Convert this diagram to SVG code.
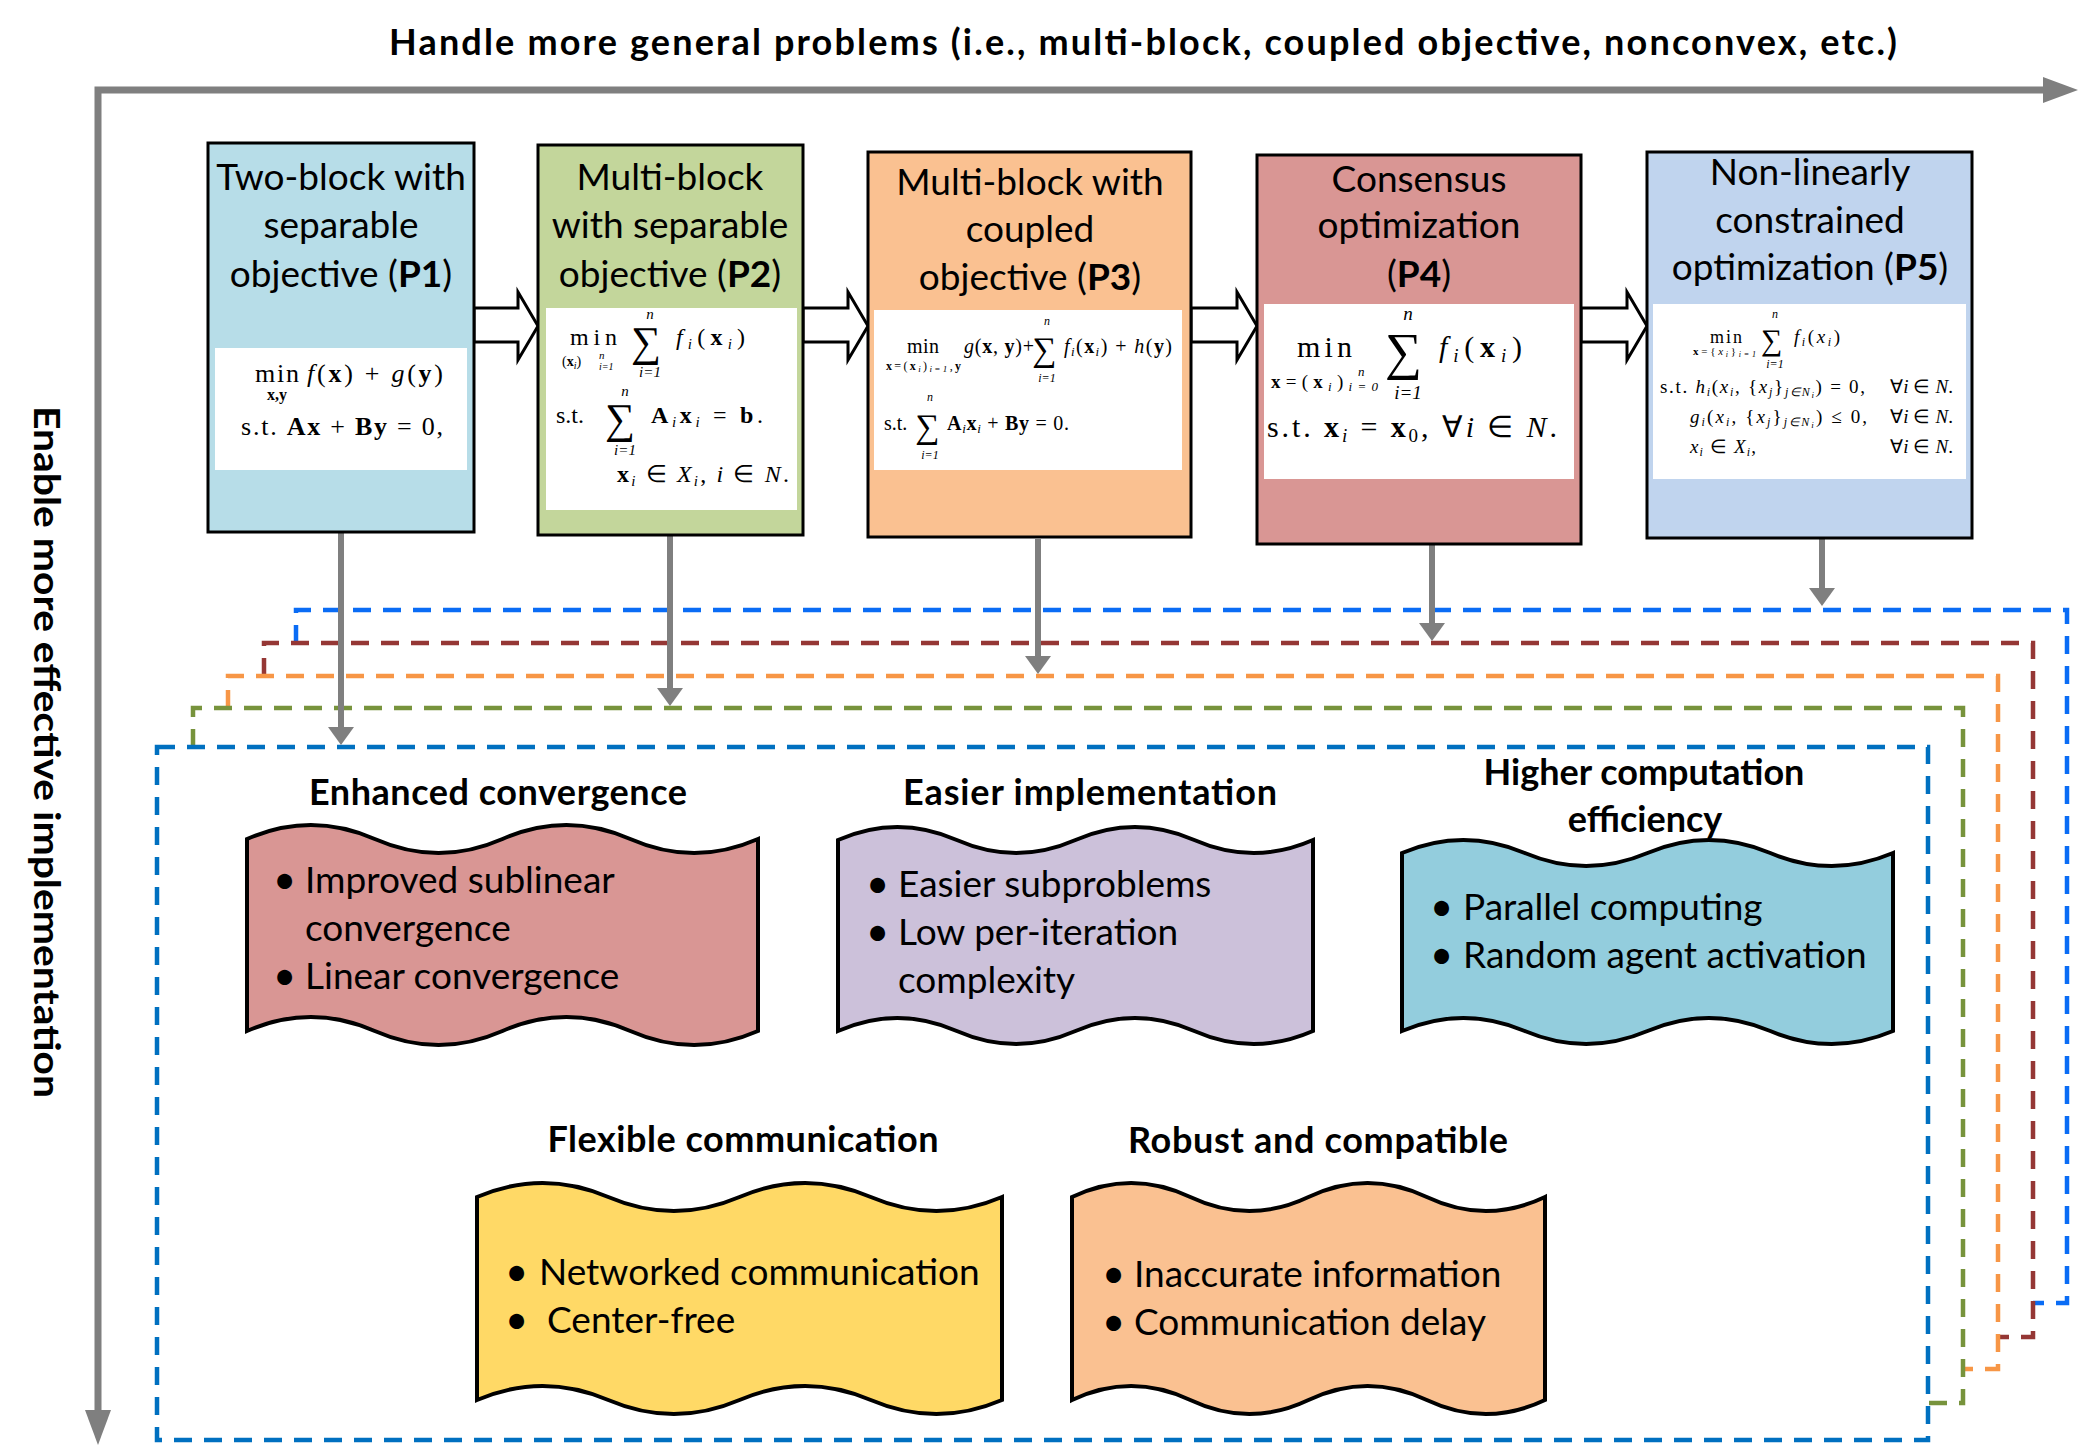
<svg xmlns="http://www.w3.org/2000/svg" width="2081" height="1446" viewBox="0 0 2081 1446">
<style>
.t{font-family:Lato,"Liberation Sans",sans-serif;font-size:37px;fill:#000}
.bl{font-size:40px}
.h{font-family:Lato,"Liberation Sans",sans-serif;font-weight:bold;font-size:36px;fill:#000}
.m{font-family:"Liberation Serif","Times New Roman",serif;fill:#000}
.it{font-style:italic}
.bd{font-weight:bold}
.box{stroke:#000;stroke-width:3}
.wh{fill:#fff}
.wave{stroke:#000;stroke-width:4}
.dash{fill:none;stroke-width:4.5;stroke-dasharray:18 12}
.gray{stroke:#7f7f7f;stroke-width:6;fill:none}
.axis{stroke:#7f7f7f;stroke-width:7;fill:none}
.blk{fill:#fff;stroke:#000;stroke-width:3;stroke-linejoin:miter}
</style>
<defs>
<marker id="axh" markerUnits="userSpaceOnUse" viewBox="0 0 35 26" markerWidth="35" markerHeight="26" refX="0" refY="13" orient="auto-start-reverse"><path d="M0,0 L35,13 L0,26 Z" fill="#7f7f7f"/></marker>
<marker id="dah" markerUnits="userSpaceOnUse" viewBox="0 0 18 26" markerWidth="18" markerHeight="26" refX="0" refY="13" orient="auto"><path d="M0,0 L18,13 L0,26 Z" fill="#7f7f7f"/></marker>
</defs>
<rect width="2081" height="1446" fill="#fff"/>

<g id="axes">
<path class="axis" d="M2043,90 H98 V1410" marker-start="url(#axh)" marker-end="url(#axh)"/>
<text class="h" x="389" y="55" font-size="36" textLength="1508">Handle more general problems (i.e., multi-block, coupled objective, nonconvex, etc.)</text>
<text class="h" transform="translate(34,406) rotate(90)" font-size="44" textLength="692" lengthAdjust="spacingAndGlyphs">Enable more effective implementation</text>
</g>

<g id="stack">
<path class="dash" stroke="#0a6cf5" d="M296,643 V610 H2067 V1303 H2033"/>
<path class="dash" stroke="#953735" d="M264,676 V643 H2033 V1337 H1998"/>
<path class="dash" stroke="#f79646" d="M228,708 V676 H1998 V1369 H1963"/>
<path class="dash" stroke="#77933c" d="M193,747 V708 H1963 V1403 H1928"/>
<rect class="dash" stroke="#0070c0" x="157" y="747" width="1771" height="693"/>
</g>

<g id="connectors">
<polygon class="blk" points="474,308 518,308 518,292 538,326 518,360 518,342 474,342"/>
<polygon class="blk" points="803,308 848,308 848,292 868,326 848,360 848,342 803,342"/>
<polygon class="blk" points="1191,308 1237,308 1237,292 1257,326 1237,360 1237,342 1191,342"/>
<polygon class="blk" points="1581,308 1627,308 1627,292 1647,326 1627,360 1627,342 1581,342"/>
<line class="gray" x1="341" y1="532" x2="341" y2="727" marker-end="url(#dah)"/>
<line class="gray" x1="670" y1="536" x2="670" y2="688" marker-end="url(#dah)"/>
<line class="gray" x1="1038" y1="539" x2="1038" y2="656" marker-end="url(#dah)"/>
<line class="gray" x1="1432" y1="545" x2="1432" y2="623" marker-end="url(#dah)"/>
<line class="gray" x1="1822" y1="539" x2="1822" y2="588" marker-end="url(#dah)"/>
</g>

<g id="p1">
<rect class="box" x="208" y="143" width="266" height="389" fill="#b7dde8"/>
<rect class="wh" x="215" y="348" width="252" height="122"/>
<text class="t" text-anchor="middle"><tspan x="341" y="190">Two-block with</tspan><tspan x="341" y="238">separable</tspan><tspan x="341" y="287">objective (<tspan class="bd">P1</tspan>)</tspan></text>
<text class="m" x="255" y="382" font-size="26" textLength="44">min</text>
<text class="m bd" x="277" y="400" font-size="16" text-anchor="middle">x,y</text>
<text class="m" x="307" y="382" font-size="26" textLength="136"><tspan class="it">f</tspan>(<tspan class="bd">x</tspan>) + <tspan class="it">g</tspan>(<tspan class="bd">y</tspan>)</text>
<text class="m" x="241" y="435" font-size="26" textLength="202">s.t. <tspan class="bd">Ax</tspan> + <tspan class="bd">By</tspan> = 0,</text>
</g>

<g id="p2">
<rect class="box" x="538" y="145" width="265" height="390" fill="#c3d69b"/>
<rect class="wh" x="546" y="308" width="251" height="202"/>
<text class="t" text-anchor="middle"><tspan x="670" y="190">Multi-block</tspan><tspan x="670" y="238">with separable</tspan><tspan x="670" y="287">objective (<tspan class="bd">P2</tspan>)</tspan></text>
<text class="m" x="570" y="345" font-size="24" textLength="47">min</text>
<text class="m" x="562" y="366" font-size="14">(<tspan class="bd">x</tspan><tspan class="it" font-size="10" dy="3">i</tspan><tspan dy="-3">)</tspan></text>
<text class="m it" x="599" y="359" font-size="11">n</text>
<text class="m it" x="599" y="370" font-size="10">i=1</text>
<text class="m" x="631" y="356" font-size="42">∑</text>
<text class="m it" x="650" y="319" font-size="15" text-anchor="middle">n</text>
<text class="m it" x="650" y="377" font-size="15" text-anchor="middle">i=1</text>
<text class="m" x="676" y="345" font-size="24" textLength="69"><tspan class="it">f</tspan><tspan class="it" font-size="15" dy="4">i</tspan><tspan dy="-4">(</tspan><tspan class="bd">x</tspan><tspan class="it" font-size="15" dy="4">i</tspan><tspan dy="-4">)</tspan></text>
<text class="m" x="556" y="423" font-size="24">s.t.</text>
<text class="m" x="605" y="433" font-size="42">∑</text>
<text class="m it" x="625" y="396" font-size="15" text-anchor="middle">n</text>
<text class="m it" x="625" y="455" font-size="15" text-anchor="middle">i=1</text>
<text class="m" x="651" y="423" font-size="24" textLength="112"><tspan class="bd">A</tspan><tspan class="it" font-size="15" dy="4">i</tspan><tspan class="bd" dy="-4">x</tspan><tspan class="it" font-size="15" dy="4">i</tspan><tspan dy="-4"> = </tspan><tspan class="bd">b</tspan>.</text>
<text class="m" x="617" y="482" font-size="24" textLength="172"><tspan class="bd">x</tspan><tspan class="it" font-size="15" dy="4">i</tspan><tspan dy="-4"> ∈ </tspan><tspan class="it">X</tspan><tspan class="it" font-size="15" dy="4">i</tspan><tspan dy="-4">, </tspan><tspan class="it">i</tspan> ∈ <tspan class="it">N</tspan>.</text>
</g>

<g id="p3">
<rect class="box" x="868" y="152" width="323" height="385" fill="#fac191"/>
<rect class="wh" x="874" y="310" width="308" height="160"/>
<text class="t" text-anchor="middle"><tspan x="1030" y="195">Multi-block with</tspan><tspan x="1030" y="242">coupled</tspan><tspan x="1030" y="290">objective (<tspan class="bd">P3</tspan>)</tspan></text>
<text class="m" x="907" y="353" font-size="20" textLength="32">min</text>
<text class="m" x="886" y="370" font-size="12" textLength="75"><tspan class="bd">x</tspan>=(<tspan class="bd">x</tspan><tspan class="it" font-size="9" dy="2">i</tspan><tspan dy="-2">)</tspan><tspan class="it" font-size="9" dy="2">i=1</tspan><tspan dy="-2">,</tspan><tspan class="bd">y</tspan></text>
<text class="m" x="964" y="353" font-size="20" textLength="70"><tspan class="it">g</tspan>(<tspan class="bd">x</tspan>, <tspan class="bd">y</tspan>)+</text>
<text class="m" x="1032" y="361" font-size="34">∑</text>
<text class="m it" x="1047" y="325" font-size="12" text-anchor="middle">n</text>
<text class="m it" x="1047" y="382" font-size="12" text-anchor="middle">i=1</text>
<text class="m" x="1064" y="353" font-size="20" textLength="108"><tspan class="it">f</tspan><tspan class="it" font-size="13" dy="3">i</tspan><tspan dy="-3">(</tspan><tspan class="bd">x</tspan><tspan class="it" font-size="13" dy="3">i</tspan><tspan dy="-3">) + </tspan><tspan class="it">h</tspan>(<tspan class="bd">y</tspan>)</text>
<text class="m" x="884" y="430" font-size="20">s.t.</text>
<text class="m" x="915" y="438" font-size="34">∑</text>
<text class="m it" x="930" y="401" font-size="12" text-anchor="middle">n</text>
<text class="m it" x="930" y="459" font-size="12" text-anchor="middle">i=1</text>
<text class="m" x="947" y="430" font-size="20" textLength="122"><tspan class="bd">A</tspan><tspan class="it" font-size="13" dy="3">i</tspan><tspan class="bd" dy="-3">x</tspan><tspan class="it" font-size="13" dy="3">i</tspan><tspan dy="-3"> + </tspan><tspan class="bd">By</tspan> = 0.</text>
</g>

<g id="p4">
<rect class="box" x="1257" y="155" width="324" height="389" fill="#d99694"/>
<rect class="wh" x="1264" y="304" width="310" height="175"/>
<text class="t" text-anchor="middle"><tspan x="1419" y="192">Consensus</tspan><tspan x="1419" y="238">optimization</tspan><tspan x="1419" y="287">(<tspan class="bd">P4</tspan>)</tspan></text>
<text class="m" x="1297" y="357" font-size="30" textLength="55">min</text>
<text class="m" x="1271" y="388" font-size="19" textLength="107"><tspan class="bd">x</tspan>=(<tspan class="bd">x</tspan><tspan class="it" font-size="13" dy="3">i</tspan><tspan dy="-3">)</tspan><tspan class="it" font-size="13" dy="3">i=0</tspan></text>
<text class="m it" x="1358" y="376" font-size="13">n</text>
<text class="m" x="1385" y="369" font-size="52">∑</text>
<text class="m it" x="1408" y="320" font-size="19" text-anchor="middle">n</text>
<text class="m it" x="1408" y="399" font-size="19" text-anchor="middle">i=1</text>
<text class="m" x="1439" y="357" font-size="30" textLength="83"><tspan class="it">f</tspan><tspan class="it" font-size="19" dy="5">i</tspan><tspan dy="-5">(</tspan><tspan class="bd">x</tspan><tspan class="it" font-size="19" dy="5">i</tspan><tspan dy="-5">)</tspan></text>
<text class="m" x="1267" y="437" font-size="30" textLength="290">s.t. <tspan class="bd">x</tspan><tspan class="it" font-size="19" dy="5">i</tspan><tspan dy="-5"> = </tspan><tspan class="bd">x</tspan><tspan font-size="19" dy="5">0</tspan><tspan dy="-5">,  ∀</tspan><tspan class="it">i</tspan> ∈ <tspan class="it">N</tspan>.</text>
</g>

<g id="p5">
<rect class="box" x="1647" y="152" width="325" height="386" fill="#c0d4ee"/>
<rect class="wh" x="1653" y="304" width="313" height="175"/>
<text class="t" text-anchor="middle"><tspan x="1810" y="185">Non-linearly</tspan><tspan x="1810" y="233">constrained</tspan><tspan x="1810" y="280">optimization (<tspan class="bd">P5</tspan>)</tspan></text>
<text class="m" x="1710" y="343" font-size="18" textLength="32">min</text>
<text class="m" x="1693" y="355" font-size="11" textLength="63"><tspan class="bd">x</tspan>={<tspan class="it">x</tspan><tspan class="it" font-size="8" dy="2">i</tspan><tspan dy="-2">}</tspan><tspan class="it" font-size="8" dy="2">i=1</tspan></text>
<text class="m" x="1761" y="350" font-size="30">∑</text>
<text class="m it" x="1775" y="318" font-size="12" text-anchor="middle">n</text>
<text class="m it" x="1775" y="368" font-size="12" text-anchor="middle">i=1</text>
<text class="m" x="1794" y="343" font-size="19" textLength="46"><tspan class="it">f</tspan><tspan class="it" font-size="12" dy="3">i</tspan><tspan dy="-3">(</tspan><tspan class="it">x</tspan><tspan class="it" font-size="12" dy="3">i</tspan><tspan dy="-3">)</tspan></text>
<text class="m" x="1660" y="393" font-size="19" textLength="205">s.t. <tspan class="it">h</tspan><tspan class="it" font-size="12" dy="3">i</tspan><tspan dy="-3">(</tspan><tspan class="it">x</tspan><tspan class="it" font-size="12" dy="3">i</tspan><tspan dy="-3">, {</tspan><tspan class="it">x</tspan><tspan class="it" font-size="12" dy="3">j</tspan><tspan dy="-3">}</tspan><tspan class="it" font-size="12" dy="3">j∈N</tspan><tspan class="it" font-size="9" dy="2">i</tspan><tspan dy="-5">) = 0,</tspan></text>
<text class="m" x="1690" y="423" font-size="19" textLength="177"><tspan class="it">g</tspan><tspan class="it" font-size="12" dy="3">i</tspan><tspan dy="-3">(</tspan><tspan class="it">x</tspan><tspan class="it" font-size="12" dy="3">i</tspan><tspan dy="-3">, {</tspan><tspan class="it">x</tspan><tspan class="it" font-size="12" dy="3">j</tspan><tspan dy="-3">}</tspan><tspan class="it" font-size="12" dy="3">j∈N</tspan><tspan class="it" font-size="9" dy="2">i</tspan><tspan dy="-5">) ≤ 0,</tspan></text>
<text class="m" x="1690" y="453" font-size="19" textLength="66"><tspan class="it">x</tspan><tspan class="it" font-size="12" dy="3">i</tspan><tspan dy="-3"> ∈ </tspan><tspan class="it">X</tspan><tspan class="it" font-size="12" dy="3">i</tspan><tspan dy="-3">,</tspan></text>
<text class="m" x="1890" y="393" font-size="19" textLength="63">∀<tspan class="it">i</tspan> ∈ <tspan class="it">N</tspan>.</text>
<text class="m" x="1890" y="423" font-size="19" textLength="63">∀<tspan class="it">i</tspan> ∈ <tspan class="it">N</tspan>.</text>
<text class="m" x="1890" y="453" font-size="19" textLength="63">∀<tspan class="it">i</tspan> ∈ <tspan class="it">N</tspan>.</text>
</g>

<g id="convergence">
<text class="h" x="498" y="805" text-anchor="middle" textLength="378">Enhanced convergence</text>
<path class="wave" fill="#d99694" d="M247,839 C289.6,820.3 332.2,820.3 374.75,839 C417.3,857.7 459.9,857.7 502.5,839 C545.1,820.3 587.7,820.3 630.25,839 C672.8,857.7 715.4,857.7 758,839 L758,1031 C715.4,1049.7 672.8,1049.7 630.25,1031 C587.7,1012.3 545.1,1012.3 502.5,1031 C459.9,1049.7 417.3,1049.7 374.75,1031 C332.2,1012.3 289.6,1012.3 247,1031 Z"/>
<text class="t"><tspan class="bl" x="273" y="894">•</tspan><tspan x="305" y="893">Improved sublinear</tspan><tspan x="305" y="941">convergence</tspan><tspan class="bl" x="273" y="990">•</tspan><tspan x="305" y="989">Linear convergence</tspan></text>
</g>

<g id="implementation">
<text class="h" x="1090" y="805" text-anchor="middle" textLength="374">Easier implementation</text>
<path class="wave" fill="#ccc1da" d="M838,840 C877.6,822.7 917.2,822.7 956.75,840 C996.3,857.3 1035.9,857.3 1075.5,840 C1115.1,822.7 1154.7,822.7 1194.25,840 C1233.8,857.3 1273.4,857.3 1313,840 L1313,1031 C1273.4,1048.3 1233.8,1048.3 1194.25,1031 C1154.7,1013.7 1115.1,1013.7 1075.5,1031 C1035.9,1048.3 996.3,1048.3 956.75,1031 C917.2,1013.7 877.6,1013.7 838,1031 Z"/>
<text class="t"><tspan class="bl" x="866" y="898">•</tspan><tspan x="898" y="897">Easier subproblems</tspan><tspan class="bl" x="866" y="946">•</tspan><tspan x="898" y="945">Low per-iteration</tspan><tspan x="898" y="993">complexity</tspan></text>
</g>

<g id="efficiency">
<text class="h" text-anchor="middle"><tspan x="1644" y="785">Higher computation</tspan><tspan x="1645" y="832">efficiency</tspan></text>
<path class="wave" fill="#93cddd" d="M1402,853 C1442.9,835.7 1483.8,835.7 1524.75,853 C1565.7,870.3 1606.6,870.3 1647.5,853 C1688.4,835.7 1729.3,835.7 1770.25,853 C1811.2,870.3 1852.1,870.3 1893,853 L1893,1031 C1852.1,1048.3 1811.2,1048.3 1770.25,1031 C1729.3,1013.7 1688.4,1013.7 1647.5,1031 C1606.6,1048.3 1565.7,1048.3 1524.75,1031 C1483.8,1013.7 1442.9,1013.7 1402,1031 Z"/>
<text class="t"><tspan class="bl" x="1430" y="921">•</tspan><tspan x="1463" y="920">Parallel computing</tspan><tspan class="bl" x="1430" y="969">•</tspan><tspan x="1463" y="968">Random agent activation</tspan></text>
</g>

<g id="communication">
<text class="h" x="743" y="1152" text-anchor="middle" textLength="391">Flexible communication</text>
<path class="wave" fill="#ffd966" d="M477,1197 C520.75,1178.3 564.5,1178.3 608.25,1197 C652,1215.7 695.75,1215.7 739.5,1197 C783.25,1178.3 827,1178.3 870.75,1197 C914.5,1215.7 958.25,1215.7 1002,1197 L1002,1400 C958.25,1418.7 914.5,1418.7 870.75,1400 C827,1381.3 783.25,1381.3 739.5,1400 C695.75,1418.7 652,1418.7 608.25,1400 C564.5,1381.3 520.75,1381.3 477,1400 Z"/>
<text class="t"><tspan class="bl" x="505" y="1286">•</tspan><tspan x="539" y="1285">Networked communication</tspan><tspan class="bl" x="505" y="1334">•</tspan><tspan x="547" y="1333">Center-free</tspan></text>
</g>

<g id="robust">
<text class="h" x="1318" y="1153" text-anchor="middle" textLength="380">Robust and compatible</text>
<path class="wave" fill="#fac191" d="M1072,1197 C1111.4,1178.3 1150.8,1178.3 1190.25,1197 C1229.7,1215.7 1269.1,1215.7 1308.5,1197 C1347.9,1178.3 1387.3,1178.3 1426.75,1197 C1466.2,1215.7 1505.6,1215.7 1545,1197 L1545,1400 C1505.6,1418.7 1466.2,1418.7 1426.75,1400 C1387.3,1381.3 1347.9,1381.3 1308.5,1400 C1269.1,1418.7 1229.7,1418.7 1190.25,1400 C1150.8,1381.3 1111.4,1381.3 1072,1400 Z"/>
<text class="t"><tspan class="bl" x="1102" y="1288">•</tspan><tspan x="1134" y="1287">Inaccurate information</tspan><tspan class="bl" x="1102" y="1336">•</tspan><tspan x="1134" y="1335">Communication delay</tspan></text>
</g>
</svg>
